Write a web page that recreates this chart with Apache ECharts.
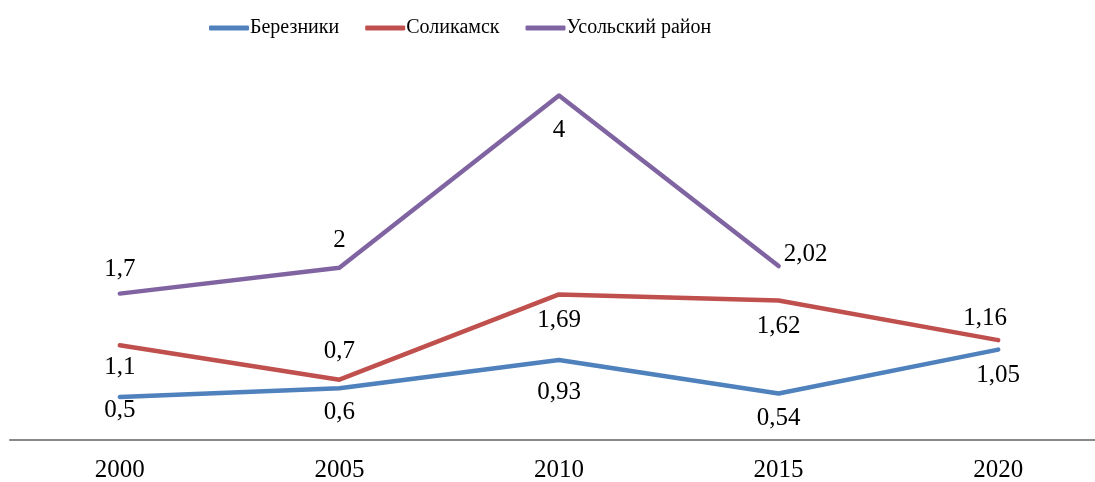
<!DOCTYPE html>
<html>
<head>
<meta charset="utf-8">
<script src="https://cdn.jsdelivr.net/npm/echarts@6/dist/echarts.min.js"></script>
<style>
html,body{margin:0;padding:0;background:#fff;}
#chart{width:1095px;height:482px;}
</style>
</head>
<body>
<div id="chart"></div>
<script>
var categories = ['2000', '2005', '2010', '2015', '2020'];
var seriesNames = ['Березники', 'Соликамск', 'Усольский район'];
var berezniki = [0.5, 0.6, 0.93, 0.54, 1.05];
var solikamsk = [1.1, 0.7, 1.69, 1.62, 1.16];
var usolsky = [1.7, 2, 4, 2.02, null];

// label offsets (styling only), [dx, dy] from the point
var berOffsets = [[0, 13], [0, 24], [0, 33], [0, 25], [0, 26]];
var solOffsets = [[0, 22], [0, -28], [0, 26], [0, 26], [-13, -22]];
var usoOffsets = [[0, -24], [0, -27], [0, 35], [27, -12], [0, 0]];

var colors = ['#4F81BD', '#C0504D', '#8064A2'];
var FONT = '"Liberation Serif", "Times New Roman", serif';

function fmt(v) { return String(v).replace('.', ','); }

function buildData(values, offsets) {
  return values.map(function (v, i) {
    return {
      value: v,
      label: { offset: offsets[i] }
    };
  });
}

function buildSeries(name, values, offsets, color) {
  return {
    name: name,
    type: 'line',
    data: buildData(values, offsets),
    symbol: 'circle',
    symbolSize: 0.1,
    showSymbol: true,
    connectNulls: false,
    itemStyle: { color: color },
    lineStyle: { color: color, width: 4.5, cap: 'round', join: 'round' },
    emphasis: { disabled: true },
    label: {
      show: true,
      position: 'inside',
      align: 'center',
      verticalAlign: 'middle',
      color: '#000',
      fontFamily: FONT,
      fontSize: 25,
      formatter: function (p) { return p.value == null ? '' : fmt(p.value); }
    },
    animation: false
  };
}

var chart = echarts.init(document.getElementById('chart'));
chart.setOption({
  animation: false,
  color: colors,
  legend: {
    top: 13,
    left: 204,
    itemWidth: 40,
    itemHeight: 5,
    itemGap: 26,
    icon: 'roundRect',
    textStyle: { fontFamily: FONT, fontSize: 20, color: '#000', padding: [0, 0, 0, -4] },
    data: seriesNames.map(function (n, i) {
      return { name: n, icon: 'roundRect', itemStyle: { color: colors[i] } };
    })
  },
  grid: { left: 10, right: -13, top: 52.5, bottom: 42, outerBoundsMode: 'none', containLabel: false },
  xAxis: {
    type: 'category',
    data: categories,
    boundaryGap: true,
    axisLine: { show: true, lineStyle: { color: '#898989', width: 2 } },
    axisTick: { show: false },
    axisLabel: { fontFamily: FONT, fontSize: 25, color: '#000', margin: 18 }
  },
  yAxis: {
    type: 'value',
    min: 0,
    max: 4.5,
    show: false,
    splitLine: { show: false }
  },
  series: [
    buildSeries(seriesNames[0], berezniki, berOffsets, colors[0]),
    buildSeries(seriesNames[1], solikamsk, solOffsets, colors[1]),
    buildSeries(seriesNames[2], usolsky, usoOffsets, colors[2])
  ]
});
</script>
</body>
</html>
